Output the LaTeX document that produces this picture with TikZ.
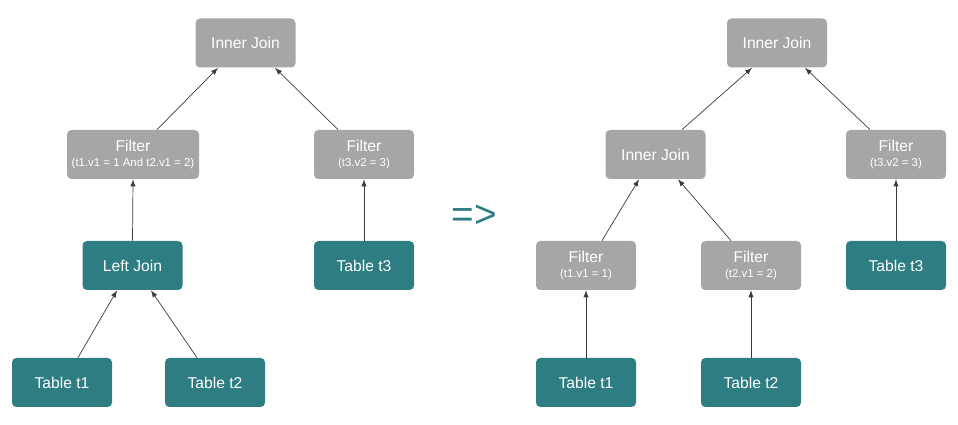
\documentclass[tikz,border=0pt]{standalone}
\usepackage{fontspec}
\setmainfont{Liberation Sans}
\usepackage{tikz}
\usetikzlibrary{arrows, positioning, calc}
\definecolor{opgray}{RGB}{166, 166, 166}
\definecolor{scanteal}{RGB}{45, 125, 130}
\definecolor{edgedark}{RGB}{60, 60, 60}

\newcommand{\condtext}[1]{{\fontsize{6.5}{7.5}\selectfont #1}}

\tikzset{
    opbox/.style={rectangle, rounded corners=2.5pt, fill=opgray, text=white,
        minimum width=2cm, minimum height=0.98cm, align=center,
        font=\fontsize{8.9}{10}\selectfont, inner sep=1pt},
    scanbox/.style={opbox, fill=scanteal},
    wideop/.style={opbox, minimum width=2.64cm},
    flow/.style={-latex, edgedark, line width=0.4pt}
}

\begin{document}
\begin{tikzpicture}
    \useasboundingbox (0,0) rectangle (19.16,-8.5);

    % Before: plan with filter above left join
    \node[opbox] (ijL) at (4.91,-0.86) {Inner Join};
    \node[wideop] (filterL) at (2.66,-3.09) {Filter\\[-1pt]\condtext{(t1.v1 = 1 And t2.v1 = 2)}};
    \node[opbox] (filter3L) at (7.28,-3.09) {Filter\\[-1pt]\condtext{(t3.v2 = 3)}};
    \node[scanbox] (leftjoin) at (2.65,-5.31) {Left Join};
    \node[scanbox] (table3L) at (7.28,-5.31) {Table t3};
    \node[scanbox] (table1L) at (1.24,-7.65) {Table t1};
    \node[scanbox] (table2L) at (4.30,-7.65) {Table t2};

    \draw[flow] ([xshift=0.48cm]filterL.north) -- ([xshift=-0.55cm]ijL.south);
    \draw[flow] ([xshift=-0.52cm]filter3L.north) -- ([xshift=0.59cm]ijL.south);
    \draw[flow] (leftjoin.north) -- (filterL.south);
    \draw[flow] (table3L.north) -- (filter3L.south);
    \draw[flow] ([xshift=0.32cm]table1L.north) -- ([xshift=-0.31cm]leftjoin.south);
    \draw[flow] ([xshift=-0.36cm]table2L.north) -- ([xshift=0.37cm]leftjoin.south);

    % Rewrite sign
    \node[text=scanteal, font=\fontsize{22}{22}\selectfont] (rewrite) at (9.48,-4.33) {=>};

    % After: left join turned into inner join, filters pushed down
    \node[opbox] (ijR) at (15.54,-0.86) {Inner Join};
    \node[opbox] (ijmid) at (13.11,-3.09) {Inner Join};
    \node[opbox] (filter3R) at (17.92,-3.09) {Filter\\[-1pt]\condtext{(t3.v2 = 3)}};
    \node[opbox] (filter1R) at (11.72,-5.31) {Filter\\[-1pt]\condtext{(t1.v1 = 1)}};
    \node[opbox] (filter2R) at (15.02,-5.31) {Filter\\[-1pt]\condtext{(t2.v1 = 2)}};
    \node[scanbox] (table3R) at (17.92,-5.31) {Table t3};
    \node[scanbox] (table1R) at (11.72,-7.65) {Table t1};
    \node[scanbox] (table2R) at (15.02,-7.65) {Table t2};

    \draw[flow] ([xshift=0.53cm]ijmid.north) -- ([xshift=-0.5cm]ijR.south);
    \draw[flow] ([xshift=-0.52cm]filter3R.north) -- ([xshift=0.56cm]ijR.south);
    \draw[flow] ([xshift=0.32cm]filter1R.north) -- ([xshift=-0.33cm]ijmid.south);
    \draw[flow] ([xshift=-0.4cm]filter2R.north) -- ([xshift=0.45cm]ijmid.south);
    \draw[flow] (table3R.north) -- (filter3R.south);
    \draw[flow] (table1R.north) -- (filter1R.south);
    \draw[flow] (table2R.north) -- (filter2R.south);
\end{tikzpicture}
\end{document}
